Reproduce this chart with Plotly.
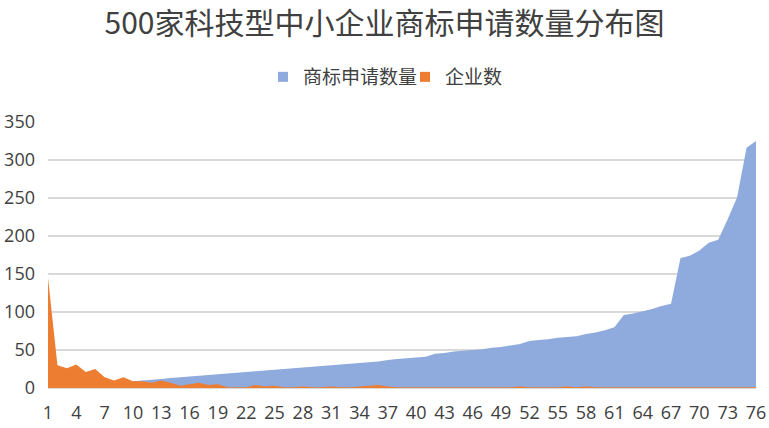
import plotly.graph_objects as go

FONT = "Microsoft YaHei, Noto Sans CJK SC, sans-serif"
NUM_FONT = "Open Sans, Noto Sans CJK SC, sans-serif"
TEXT_COLOR = "#404040"
W, H = 769, 428

TITLE = "500家科技型中小企业商标申请数量分布图"
SERIES_NAMES = ["商标申请数量", "企业数"]
COLORS = ["#8faadc", "#ed7d31"]

# category index 1..76
categories = list(range(1, 77))

# 商标申请数量 (blue area)
trademarks = [
    0, 1, 2, 3, 4, 5, 6, 7, 8, 9,
    10, 11, 12, 13, 14, 15, 16, 17, 18, 19,
    20, 21, 22, 23, 24, 25, 26, 27, 28, 29,
    30, 31, 32, 33, 34, 35, 37, 38, 39, 40,
    41, 45, 46, 48, 49, 50, 51, 53, 54, 56,
    58, 62, 63, 64, 66, 67, 68, 71, 73, 76,
    80, 96, 98, 101, 104, 108, 111, 171, 174, 181,
    191, 195, 222, 251, 316, 325,
]

# 企业数 (orange area)
companies = [
    145, 30, 26, 31, 21, 25, 14, 10, 14, 9,
    9, 7, 10, 7, 3, 5, 7, 4, 5, 1,
    1, 1, 4, 2, 3, 1, 1, 2, 1, 1,
    2, 1, 1, 2, 3, 4, 2, 1, 1, 1,
    1, 1, 1, 1, 1, 1, 1, 1, 1, 1,
    2, 1, 1, 1, 1, 2, 1, 2, 1, 1,
    1, 1, 1, 1, 1, 1, 1, 1, 1, 1,
    1, 1, 1, 1, 1, 1,
]

x_ticks = list(range(1, 77, 3))
y_ticks = list(range(0, 351, 50))

fig = go.Figure()
for name, values, color in zip(SERIES_NAMES, [trademarks, companies], COLORS):
    fig.add_trace(go.Scatter(
        x=categories, y=values, mode="none", fill="tozeroy",
        fillcolor=color, name=name, showlegend=False, hoverinfo="x+y",
    ))
# square legend markers, one legend each so they sit where the original has them
legend_x = [263 / W, 405 / W]
for i, (name, color) in enumerate(zip(SERIES_NAMES, COLORS)):
    fig.add_trace(go.Scatter(
        x=[None], y=[None], mode="markers", name=name,
        marker=dict(symbol="square", size=10, color=color),
        legend="legend" if i == 0 else "legend2",
    ))

legend_style = dict(
    orientation="h", xref="container", yref="container", xanchor="left",
    y=1 - 77 / H, yanchor="middle", font=dict(size=19, color=TEXT_COLOR),
    itemwidth=30, bgcolor="rgba(0,0,0,0)",
)

fig.update_layout(
    width=W, height=H,
    margin=dict(l=48, r=13, t=122, b=40),
    paper_bgcolor="white", plot_bgcolor="white",
    font=dict(family=FONT, color=TEXT_COLOR, size=17),
    title=dict(
        text=TITLE, x=384.5 / W, xanchor="center", xref="container",
        y=1 - 23 / H, yanchor="middle", yref="container",
        font=dict(size=30, color=TEXT_COLOR, family=FONT),
    ),
    legend=dict(x=legend_x[0], **legend_style),
    legend2=dict(x=legend_x[1], **legend_style),
    xaxis=dict(
        range=[1, 76], tickvals=x_ticks, ticktext=[str(v) for v in x_ticks],
        showgrid=False, zeroline=False, showline=True, linecolor="#d9d9d9",
        linewidth=1, ticks="", tickfont=dict(size=18, family=NUM_FONT),
        ticklabelstandoff=8, automargin=False,
    ),
    yaxis=dict(
        range=[0, 350], tickvals=y_ticks, showgrid=True, gridcolor="#d9d9d9",
        gridwidth=1.5, zeroline=False, showline=False, ticks="",
        tickfont=dict(size=18, family=NUM_FONT), ticklabelstandoff=12,
        automargin=False,
    ),
)

# drop the browser's default 8px body margin so the figure fills the window
fig.write_html(
    "out.html",
    config={"displayModeBar": False},
    post_script="document.body.style.margin = '0';",
)
